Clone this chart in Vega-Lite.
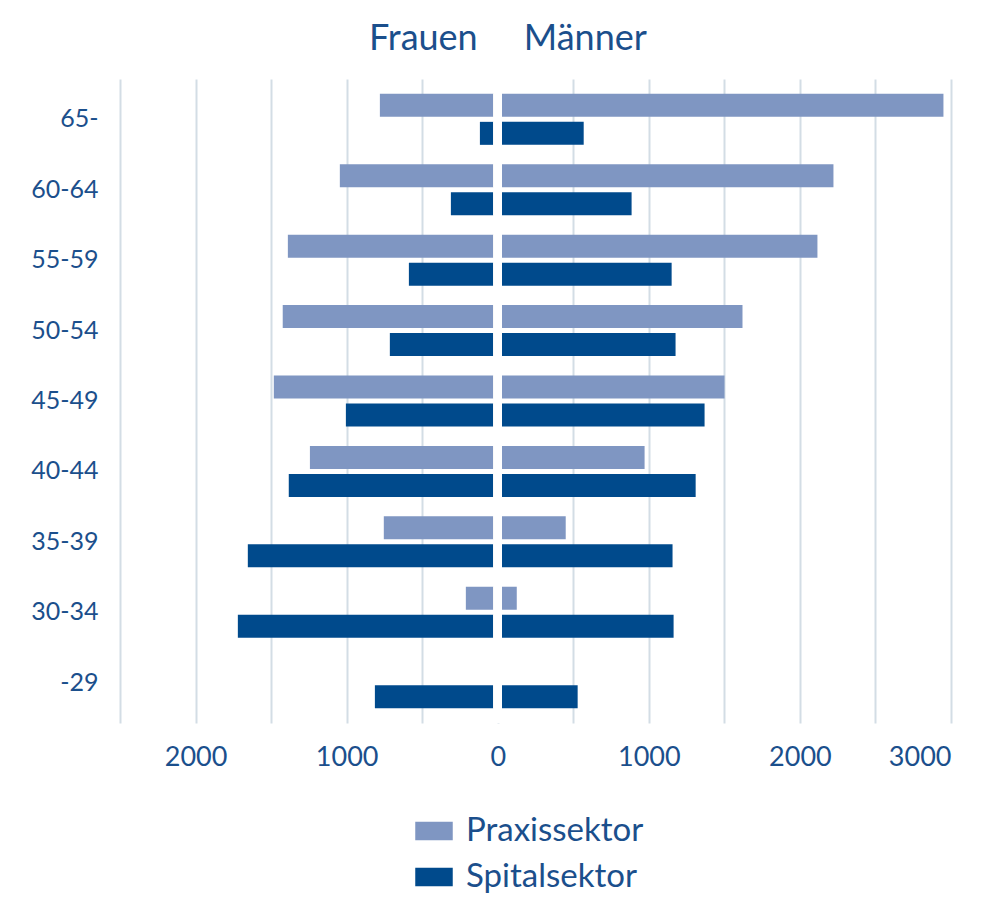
{
  "$schema": "https://vega.github.io/schema/vega-lite/v6.json",
  "width": 831,
  "height": 644,
  "autosize": {"type": "none"},
  "padding": {"left": 120, "top": 79, "right": 39, "bottom": 177},
  "background": "white",
  "title": {
    "text": "Frauen\u00a0\u00a0\u00a0\u00a0\u00a0Männer",
    "anchor": "start",
    "frame": "group",
    "dx": 249,
    "offset": -11,
    "fontSize": 36,
    "font": "Lato",
    "fontWeight": "normal",
    "color": "#1B4F8C",
    "baseline": "alphabetic"
  },
  "config": {"view": {"stroke": null}, "font": "Lato"},
  "data": {
    "values": [
      {"alter": "65-", "geschlecht": "Frauen", "sektor": "Praxissektor", "anzahl": -780},
      {"alter": "65-", "geschlecht": "Frauen", "sektor": "Spitalsektor", "anzahl": -118},
      {"alter": "60-64", "geschlecht": "Frauen", "sektor": "Praxissektor", "anzahl": -1045},
      {"alter": "60-64", "geschlecht": "Frauen", "sektor": "Spitalsektor", "anzahl": -310},
      {"alter": "55-59", "geschlecht": "Frauen", "sektor": "Praxissektor", "anzahl": -1389},
      {"alter": "55-59", "geschlecht": "Frauen", "sektor": "Spitalsektor", "anzahl": -588},
      {"alter": "50-54", "geschlecht": "Frauen", "sektor": "Praxissektor", "anzahl": -1423},
      {"alter": "50-54", "geschlecht": "Frauen", "sektor": "Spitalsektor", "anzahl": -714},
      {"alter": "45-49", "geschlecht": "Frauen", "sektor": "Praxissektor", "anzahl": -1482},
      {"alter": "45-49", "geschlecht": "Frauen", "sektor": "Spitalsektor", "anzahl": -1005},
      {"alter": "40-44", "geschlecht": "Frauen", "sektor": "Praxissektor", "anzahl": -1243},
      {"alter": "40-44", "geschlecht": "Frauen", "sektor": "Spitalsektor", "anzahl": -1383},
      {"alter": "35-39", "geschlecht": "Frauen", "sektor": "Praxissektor", "anzahl": -754},
      {"alter": "35-39", "geschlecht": "Frauen", "sektor": "Spitalsektor", "anzahl": -1654},
      {"alter": "30-34", "geschlecht": "Frauen", "sektor": "Praxissektor", "anzahl": -211},
      {"alter": "30-34", "geschlecht": "Frauen", "sektor": "Spitalsektor", "anzahl": -1720},
      {"alter": "-29", "geschlecht": "Frauen", "sektor": "Spitalsektor", "anzahl": -813},
      {"alter": "65-", "geschlecht": "Männer", "sektor": "Praxissektor", "anzahl": 2950},
      {"alter": "65-", "geschlecht": "Männer", "sektor": "Spitalsektor", "anzahl": 569},
      {"alter": "60-64", "geschlecht": "Männer", "sektor": "Praxissektor", "anzahl": 2222},
      {"alter": "60-64", "geschlecht": "Männer", "sektor": "Spitalsektor", "anzahl": 886},
      {"alter": "55-59", "geschlecht": "Männer", "sektor": "Praxissektor", "anzahl": 2116},
      {"alter": "55-59", "geschlecht": "Männer", "sektor": "Spitalsektor", "anzahl": 1151},
      {"alter": "50-54", "geschlecht": "Männer", "sektor": "Praxissektor", "anzahl": 1620},
      {"alter": "50-54", "geschlecht": "Männer", "sektor": "Spitalsektor", "anzahl": 1177},
      {"alter": "45-49", "geschlecht": "Männer", "sektor": "Praxissektor", "anzahl": 1501},
      {"alter": "45-49", "geschlecht": "Männer", "sektor": "Spitalsektor", "anzahl": 1369},
      {"alter": "40-44", "geschlecht": "Männer", "sektor": "Praxissektor", "anzahl": 972},
      {"alter": "40-44", "geschlecht": "Männer", "sektor": "Spitalsektor", "anzahl": 1310},
      {"alter": "35-39", "geschlecht": "Männer", "sektor": "Praxissektor", "anzahl": 450},
      {"alter": "35-39", "geschlecht": "Männer", "sektor": "Spitalsektor", "anzahl": 1157},
      {"alter": "30-34", "geschlecht": "Männer", "sektor": "Praxissektor", "anzahl": 126},
      {"alter": "30-34", "geschlecht": "Männer", "sektor": "Spitalsektor", "anzahl": 1164},
      {"alter": "-29", "geschlecht": "Männer", "sektor": "Spitalsektor", "anzahl": 529}
    ]
  },
  "layer": [
    {
      "mark": {"type": "bar"},
      "encoding": {
        "y": {
          "field": "alter",
          "type": "nominal",
          "sort": ["65-", "60-64", "55-59", "50-54", "45-49", "40-44", "35-39", "30-34", "-29"],
          "scale": {"paddingInner": 0.275, "paddingOuter": 0.21},
          "axis": {
            "title": null,
            "ticks": false,
            "domain": false,
            "grid": false,
            "labelFontSize": 25,
            "labelFont": "Lato",
            "labelColor": "#1B4F8C",
            "labelPadding": 22
          }
        },
        "yOffset": {
          "field": "sektor",
          "type": "nominal",
          "sort": ["Praxissektor", "Spitalsektor"],
          "scale": {"paddingInner": 0.18}
        },
        "x": {
          "field": "anzahl",
          "type": "quantitative",
          "scale": {"domain": [-2500, 3000], "nice": false, "zero": false},
          "axis": {
            "title": null,
            "values": [-2500, -2000, -1500, -1000, -500, 0, 500, 1000, 1500, 2000, 2500, 3000],
            "labelExpr": "datum.value % 1000 === 0 ? format(abs(datum.value), 'd') : ''",
            "grid": true,
            "gridColor": "#D3DDE5",
            "gridWidth": 2,
            "ticks": false,
            "domain": false,
            "labelFontSize": 27,
            "labelFont": "Lato",
            "labelColor": "#1B4F8C",
            "labelPadding": 21
          }
        },
        "color": {
          "field": "sektor",
          "type": "nominal",
          "scale": {"domain": ["Praxissektor", "Spitalsektor"], "range": ["#7F96C2", "#004A8C"]},
          "legend": {
            "title": null,
            "orient": "none",
            "legendX": 295,
            "legendY": 733,
            "direction": "vertical",
            "padding": 0,
            "symbolType": "M-1,-0.5H1V0.5H-1Z",
            "symbolSize": 1406,
            "symbolStrokeWidth": 0,
            "labelFontSize": 33,
            "labelFont": "Lato",
            "labelColor": "#1B4F8C",
            "labelOffset": 13,
            "labelLimit": 400,
            "rowPadding": 10
          }
        }
      }
    },
    {
      "mark": {"type": "rule", "color": "white", "strokeWidth": 7.7},
      "encoding": {"x": {"datum": 0}}
    }
  ]
}
